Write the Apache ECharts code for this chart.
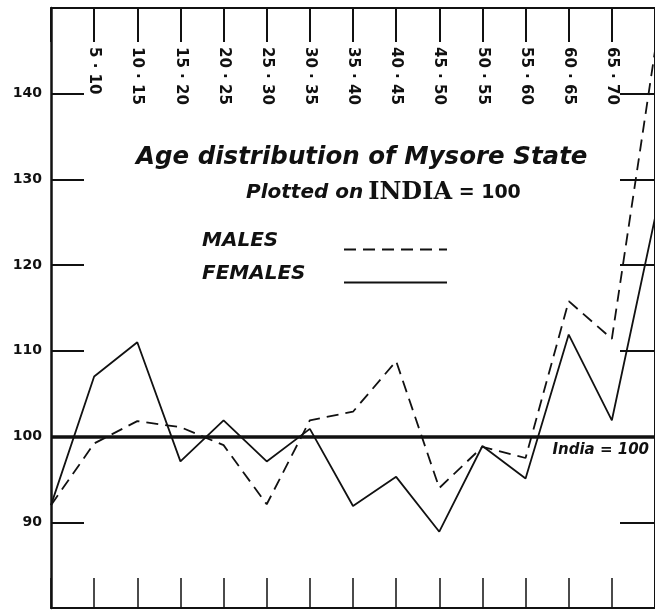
<!DOCTYPE html>
<html>
<head>
<meta charset="utf-8">
<script src="https://cdn.jsdelivr.net/npm/echarts@6/dist/echarts.min.js"></script>
<style>
  html, body { margin: 0; padding: 0; background: #fff; }
  #chart { width: 655px; height: 615px; }
</style>
</head>
<body>
<div id="chart"></div>
<script>
// age groups, the first one sits on the left axis and the last one on the right edge
var ageGroups = ['0 · 5', '5 · 10', '10 · 15', '15 · 20', '20 · 25', '25 · 30', '30 · 35', '35 · 40',
  '40 · 45', '45 · 50', '50 · 55', '55 · 60', '60 · 65', '65 · 70', '70 +'];
// Mysore State plotted on India = 100
var males = [92, 99.2, 101.8, 101.1, 99, 92.1, 101.9, 102.9, 108.8, 94, 98.8, 97.5, 115.8, 111.4, 145];
var females = [92, 107, 111, 97.1, 101.9, 97.1, 100.9, 91.9, 95.3, 88.9, 98.9, 95.1, 111.9, 101.9, 125.5];
var yTicks = [90, 100, 110, 120, 130, 140];

var ink = '#111';
var chart = echarts.init(document.getElementById('chart'));

var option = {
  backgroundColor: '#fff',
  animation: false,
  title: [
    {
      text: 'Age distribution of Mysore State',
      left: 131,
      top: 140,
      textStyle: {
        fontFamily: 'DejaVu Sans',
        fontStyle: 'italic',
        fontWeight: 'bold',
        fontSize: 24.5,
        color: ink
      }
    },
    {
      text: '{a|Plotted on} {b|INDIA}{c| = 100}',
      left: 241,
      top: 176,
      textStyle: {
        rich: {
          a: { fontFamily: 'DejaVu Sans', fontStyle: 'italic', fontWeight: 'bold', fontSize: 20, color: ink },
          b: { fontFamily: 'DejaVu Serif', fontWeight: 'bold', fontSize: 24, color: ink },
          c: { fontFamily: 'DejaVu Sans', fontWeight: 'bold', fontSize: 19, color: ink }
        }
      }
    }
  ],
  legend: {
    orient: 'vertical',
    left: 197,
    top: 226,
    align: 'right',
    itemWidth: 103,
    itemHeight: 14,
    itemGap: 9,
    itemStyle: { opacity: 0 },
    data: [
      { name: 'MALES' },
      { name: 'FEMALES' }
    ],
    formatter: function (name) {
      return '{t|' + name + '}';
    },
    textStyle: {
      rich: {
        t: {
          fontFamily: 'DejaVu Sans',
          fontStyle: 'italic',
          fontWeight: 'bold',
          fontSize: 20,
          color: ink,
          width: 137,
          align: 'left',
          padding: [0, 0, 17, 0]
        }
      }
    }
  },
  grid: {
    left: 51,
    right: -2,
    top: 8,
    bottom: 7
  },
  xAxis: [
    {
      type: 'category',
      position: 'bottom',
      boundaryGap: false,
      data: ageGroups,
      axisLine: { lineStyle: { color: ink, width: 2 } },
      axisTick: { show: true, inside: true, length: 30, interval: 0, lineStyle: { color: ink, width: 1.5 } },
      axisLabel: { show: false }
    },
    {
      type: 'category',
      position: 'top',
      boundaryGap: false,
      data: ageGroups,
      axisLine: { lineStyle: { color: ink, width: 2 } },
      axisTick: { show: true, inside: true, length: 34, interval: 0, lineStyle: { color: ink, width: 2 } },
      axisLabel: {
        inside: true,
        rotate: 90,
        margin: 39,
        interval: function (index) {
          return index > 0 && index < ageGroups.length - 1;
        },
        fontFamily: 'DejaVu Sans',
        fontWeight: 'bold',
        fontSize: 15,
        color: ink
      }
    }
  ],
  yAxis: [
    {
      type: 'value',
      position: 'left',
      min: 80,
      max: 150,
      interval: 10,
      splitLine: { show: false },
      axisLine: { show: true, lineStyle: { color: ink, width: 2.5 } },
      axisTick: { show: true, inside: true, length: 33, lineStyle: { color: ink, width: 2 } },
      axisLabel: {
        margin: 9,
        formatter: function (v) {
          return yTicks.indexOf(v) >= 0 ? String(v) : '';
        },
        fontFamily: 'DejaVu Sans',
        fontWeight: 'bold',
        fontSize: 14,
        color: ink
      }
    },
    {
      type: 'value',
      position: 'right',
      min: 80,
      max: 150,
      interval: 10,
      splitLine: { show: false },
      axisLine: { show: true, lineStyle: { color: ink, width: 2 } },
      axisTick: { show: true, inside: true, length: 35, lineStyle: { color: ink, width: 2 } },
      axisLabel: { show: false }
    }
  ],
  series: [
    {
      name: 'MALES',
      type: 'line',
      data: males,
      symbol: 'none',
      lineStyle: { color: ink, width: 1.8, type: [12, 7] },
      itemStyle: { color: ink }
    },
    {
      name: 'FEMALES',
      type: 'line',
      data: females,
      symbol: 'none',
      lineStyle: { color: ink, width: 1.8, type: 'solid' },
      itemStyle: { color: ink },
      markLine: {
        silent: true,
        symbol: 'none',
        data: [{ yAxis: 100 }],
        lineStyle: { color: ink, width: 3.5, type: 'solid' },
        label: {
          formatter: 'India = 100',
          position: 'insideEndBottom',
          distance: [6, 6],
          fontFamily: 'DejaVu Sans',
          fontStyle: 'italic',
          fontWeight: 'bold',
          fontSize: 15,
          color: ink
        }
      }
    }
  ]
};

chart.setOption(option);
</script>
</body>
</html>
